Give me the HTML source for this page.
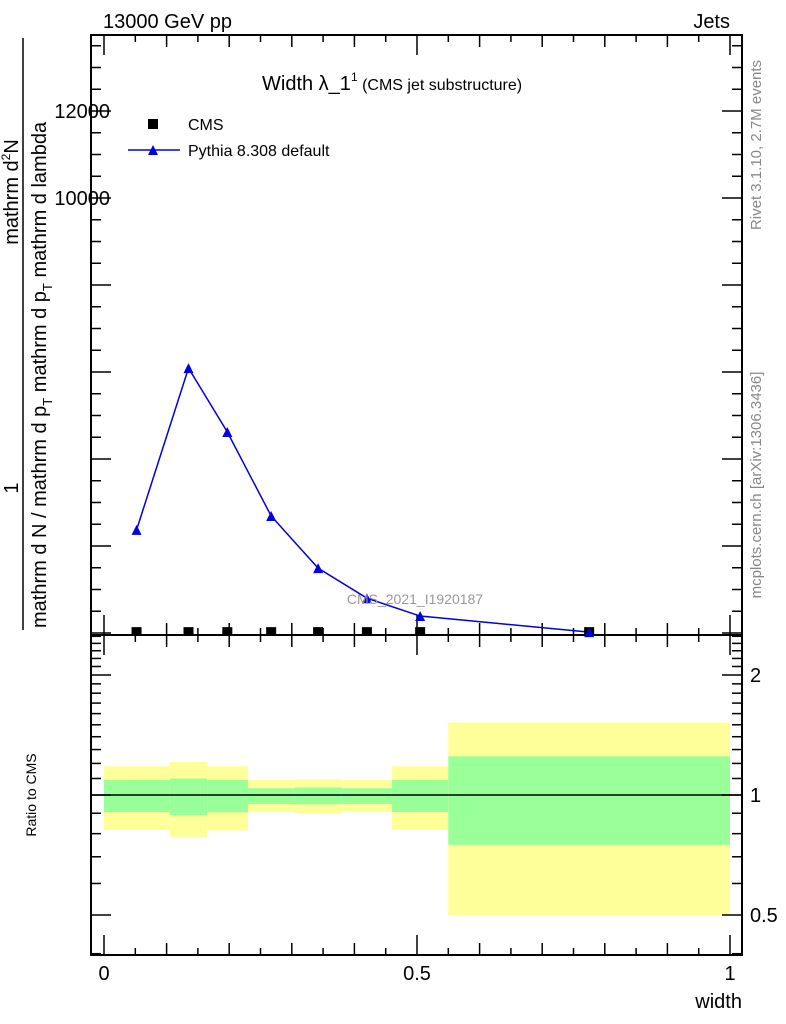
<!DOCTYPE html>
<html><head><meta charset="utf-8"><style>
html,body{margin:0;padding:0;background:#fff;}
svg{display:block;font-family:"Liberation Sans",sans-serif;}
</style></head><body>
<svg id="chart" width="786" height="1024" viewBox="0 0 786 1024" xmlns="http://www.w3.org/2000/svg">
<g id="bands"></g>
<g id="ticks" stroke="#000" stroke-width="1.5"></g>
<rect x="91" y="35" width="651" height="600" fill="none" stroke="#000" stroke-width="2"/>
<rect x="91" y="635" width="651" height="320" fill="none" stroke="#000" stroke-width="2"/>
<g id="series"></g>
<g id="labels" font-size="20" fill="#000"></g>
<text x="103" y="28" font-size="20">13000 GeV pp</text>
<text x="730" y="28" font-size="20" text-anchor="end">Jets</text>
<text x="262" y="90" font-size="20">Width λ_1<tspan font-size="12" dy="-9">1</tspan><tspan font-size="16" dy="9"> (CMS jet substructure)</tspan></text>
<g>
<rect x="148" y="119" width="10" height="10" fill="#000"/>
<text x="188" y="130" font-size="16">CMS</text>
<line x1="128" y1="150" x2="180" y2="150" stroke="#0000e0" stroke-width="1.5"/>
<polygon points="148,155 158,155 153,145" fill="#0000e0"/>
<text x="188" y="156" font-size="16">Pythia 8.308 default</text>
</g>
<text x="415" y="604" font-size="14" fill="#999" text-anchor="middle">CMS_2021_I1920187</text>
<text transform="translate(761,145) rotate(-90)" font-size="15" fill="#888" text-anchor="middle">Rivet 3.1.10,  2.7M events</text>
<text transform="translate(761,485) rotate(-90)" font-size="15" fill="#888" text-anchor="middle">mcplots.cern.ch [arXiv:1306.3436]</text>
<g font-size="20">
<text transform="translate(18,488) rotate(-90)" text-anchor="middle">1</text>
<text transform="translate(18,192) rotate(-90)" text-anchor="middle">mathrm d<tspan font-size="12" dy="-8">2</tspan><tspan dy="8">N</tspan></text>
<line x1="23" y1="38" x2="23" y2="630" stroke="#000" stroke-width="1.5"/>
<text transform="translate(46,628) rotate(-90)">mathrm d N / mathrm d p<tspan font-size="13" dy="6">T</tspan><tspan dy="-6"> mathrm d p</tspan><tspan font-size="13" dy="6">T</tspan><tspan dy="-6"> mathrm d lambda</tspan></text>
</g>
<text transform="translate(36,795) rotate(-90)" font-size="14" text-anchor="middle">Ratio to CMS</text>
<text x="742" y="1008" font-size="20" text-anchor="end">width</text>
</svg>
<script>
const binEdges=[0,0.105,0.165,0.23,0.305,0.38,0.46,0.55,1.0];
const binCenters=[0.052,0.135,0.197,0.267,0.342,0.42,0.505,0.775];
const pythiaValues=[2370,6090,4620,2690,1490,800,390,20];
const cmsValues=[20,20,20,20,20,20,20,20];
const statUp=[1.09,1.10,1.09,1.04,1.045,1.04,1.09,1.25];
const statDown=[0.906,0.89,0.905,0.95,0.948,0.95,0.906,0.75];
const totUp=[1.18,1.21,1.18,1.09,1.095,1.09,1.18,1.52];
const totDown=[0.817,0.785,0.815,0.906,0.90,0.906,0.817,0.5];
const yTickLabels=[10000,12000];
const ratioTickLabels=[0.5,1,2];
const xTickLabels=[0,0.5,1];

const NS='http://www.w3.org/2000/svg';
const X=v=>104+626*v;
const Y=v=>633-0.0435*v;
const R=r=>795-173.2*Math.log(r);
function mk(tag,attrs,parent){const e=document.createElementNS(NS,tag);for(const k in attrs)e.setAttribute(k,attrs[k]);parent.appendChild(e);return e;}
const bands=document.getElementById('bands'),ticks=document.getElementById('ticks'),series=document.getElementById('series'),labels=document.getElementById('labels');
for(let i=0;i<binCenters.length;i++){
  const x0=X(binEdges[i]),x1=X(binEdges[i+1]);
  const t=mk('rect',{x:x0,y:R(totUp[i]),width:x1-x0,height:R(totDown[i])-R(totUp[i]),fill:'#ffff99'},bands);
  
  
  const s=mk('rect',{x:x0,y:R(statUp[i]),width:x1-x0,height:R(statDown[i])-R(statUp[i]),fill:'#99ff99'},bands);
  
  
}
const one=mk('line',{x1:91,x2:742,y1:R(1),y2:R(1),stroke:'#000','stroke-width':1.5},bands);


for(let k=0;k<=20;k++){
  const v=k*0.05,x=X(v);const len=(k%10===0)?20:(k%2===0?12:7);
  for(const [yb,dir] of [[635,-1],[35,1],[955,-1],[635,1]]){
    mk('line',{x1:x,x2:x,y1:yb,y2:yb+dir*len},ticks);
  }
}
for(let v=0;v<=13500;v+=500){
  const y=Y(v);const len=(v%2000===0)?20:10;
  mk('line',{x1:91,x2:91+len,y1:y,y2:y},ticks);
  mk('line',{x1:742,x2:742-len,y1:y,y2:y},ticks);
}
const rt=[0.4,0.5,0.6,0.7,0.8,0.9,1,1.1,1.2,1.3,1.4,1.5,1.6,1.7,1.8,1.9,2,2.1,2.2,2.3,2.4,2.5];
for(const r of rt){
  const y=R(r);if(y<636||y>954)continue;const len=(r===0.5||r===1||r===2)?20:10;
  mk('line',{x1:91,x2:91+len,y1:y,y2:y},ticks);
  mk('line',{x1:742,x2:742-len,y1:y,y2:y},ticks);
}
for(const v of yTickLabels){const t=mk('text',{x:110,y:Y(v)+7,'text-anchor':'end'},labels);t.textContent=v;

}
for(const r of ratioTickLabels){const t=mk('text',{x:750,y:R(r)+7},labels);t.textContent=r;

}
for(const v of xTickLabels){const t=mk('text',{x:X(v),y:980,'text-anchor':'middle'},labels);t.textContent=v;

}
const pl=mk('polyline',{points:binCenters.map((c,i)=>X(c)+','+Y(pythiaValues[i])).join(' '),fill:'none',stroke:'#0000e0','stroke-width':1.5},series);


binCenters.forEach((c,i)=>{
  const x=X(c),y=Y(cmsValues[i]);
  const sq=mk('rect',{x:x-5,y:y-5,width:10,height:8,fill:'#000'},series);
  
  
});
binCenters.forEach((c,i)=>{
  const x=X(c),y=Y(pythiaValues[i]);
  const tr=mk('polygon',{points:`${x-5},${y+5} ${x+5},${y+5} ${x},${y-5}`,fill:'#0000e0'},series);
  
  
});
</script>
</body></html>
